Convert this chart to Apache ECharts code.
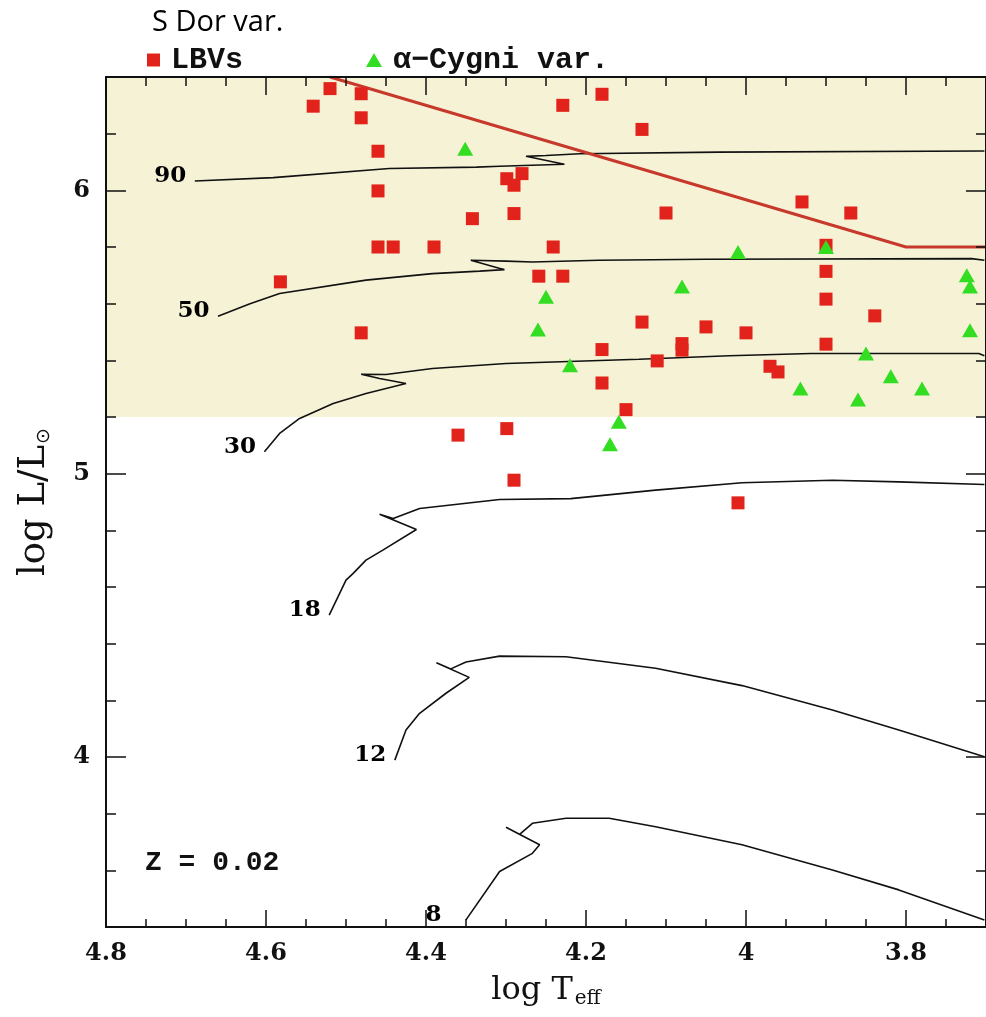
<!DOCTYPE html>
<html><head><meta charset="utf-8">
<script src="https://cdn.jsdelivr.net/npm/echarts@6/dist/echarts.min.js"></script>
<style>html,body{margin:0;padding:0;background:#fff}#c{width:986px;height:1017px}</style>
</head><body><div id="c"></div>
<script>
// ---- tick values ----
const xMajorTicks = [4.8, 4.6, 4.4, 4.2, 4.0, 3.8];
const xMinorTicks = [4.75, 4.7, 4.65, 4.55, 4.5, 4.45, 4.35, 4.3, 4.25, 4.15, 4.1, 4.05, 3.95, 3.9, 3.85, 3.75];
const yMajorTicks = [4, 5, 6];
const yMinorTicks = [3.6, 3.8, 4.2, 4.4, 4.6, 4.8, 5.2, 5.4, 5.6, 5.8, 6.2];

// ---- S Dor variables (LBVs): [log Teff, log L/Lsun] ----
const lbvs = [
  [4.520,6.359],[4.541,6.297],[4.481,6.341],[4.481,6.256],[4.460,6.138],[4.460,5.998],
  [4.460,5.800],[4.441,5.800],[4.390,5.800],[4.582,5.677],[4.481,5.497],[4.342,5.900],
  [4.299,6.041],[4.290,6.018],[4.280,6.059],[4.290,5.918],[4.360,5.136],[4.299,5.159],
  [4.259,5.697],[4.241,5.800],[4.229,6.300],[4.180,6.339],[4.130,6.215],[4.100,5.920],
  [3.930,5.959],[3.869,5.920],[3.900,5.806],[4.229,5.697],[3.900,5.714],[3.900,5.616],
  [3.839,5.557],[4.130,5.535],[4.050,5.518],[4.000,5.497],[4.080,5.459],[4.080,5.436],
  [4.180,5.438],[4.111,5.398],[3.900,5.457],[3.970,5.379],[3.960,5.359],[4.180,5.320],
  [4.150,5.226],[4.290,4.977],[4.010,4.897]
];

// ---- alpha-Cygni variables ----
const alphaCyg = [
  [4.351,6.147],[4.250,5.624],[4.260,5.509],[4.010,5.782],[3.900,5.800],[4.080,5.661],
  [4.220,5.383],[3.724,5.700],[3.720,5.661],[3.720,5.506],[3.850,5.424],[3.819,5.344],
  [3.780,5.301],[3.932,5.301],[3.860,5.262],[4.159,5.183],[4.170,5.104]
];

// ---- Humphreys-Davidson limit ----
const hdLimit = [[4.52,6.40],[3.80,5.80],[3.70,5.80]];

// ---- shaded S Dor instability region (log L range) ----
const bandL = [5.2, 6.4];

// ---- evolutionary tracks (Z = 0.02) ----
const trackNames = ['90','50','30','18','12','8'];
const track90 = [[4.689,6.033],[4.591,6.045],[4.446,6.077],[4.337,6.082],[4.308,6.085],[4.227,6.092],
  [4.275,6.120],[4.250,6.123],[4.208,6.129],[4.034,6.135],[3.702,6.139]];
const track50 = [[4.660,5.556],[4.620,5.600],[4.583,5.636],[4.475,5.683],[4.392,5.706],[4.333,5.715],
  [4.302,5.720],[4.344,5.753],[4.300,5.750],[4.267,5.747],[4.184,5.753],[4.050,5.757],[3.718,5.759],[3.702,5.753]];
const track30 = [[4.602,5.077],[4.583,5.142],[4.558,5.195],[4.516,5.248],[4.475,5.283],[4.425,5.318],
  [4.458,5.336],[4.481,5.351],[4.450,5.350],[4.392,5.371],[4.300,5.389],[4.134,5.404],[4.021,5.416],
  [3.919,5.424],[3.709,5.424],[3.702,5.416]];
const track18 = [[4.521,4.501],[4.500,4.624],[4.491,4.648],[4.475,4.695],[4.454,4.730],[4.412,4.803],
  [4.458,4.857],[4.441,4.842],[4.408,4.877],[4.308,4.909],[4.219,4.912],[4.113,4.942],[4.005,4.968],
  [3.892,4.977],[3.809,4.971],[3.702,4.962]];
const track12 = [[4.439,3.989],[4.425,4.095],[4.408,4.154],[4.375,4.225],[4.346,4.281],[4.387,4.333],
  [4.369,4.311],[4.350,4.335],[4.308,4.356],[4.225,4.354],[4.113,4.313],[4.005,4.252],[3.892,4.166],
  [3.809,4.095],[3.702,4.001]];
const track8 = [[4.350,3.425],[4.308,3.596],[4.267,3.660],[4.258,3.690],[4.300,3.752],[4.283,3.727],
  [4.267,3.766],[4.225,3.784],[4.171,3.784],[4.113,3.754],[4.005,3.690],[3.892,3.601],[3.809,3.531],[3.702,3.425]];
const tracks = [track90, track50, track30, track18, track12, track8];

// ---- styles ----
const INK = '#111';
const tickFont = {fontFamily:'DejaVu Serif', fontWeight:'bold', fontSize:24, color:INK};

function xAx(pos, ticks, len, showLabels, extra) {
  return Object.assign({
    type:'value', position:pos, min:3.7, max:4.8, inverse:true, z:10,
    axisLine:{show:true, onZero:false, lineStyle:{color:INK, width:2}},
    axisTick:{show:true, inside:true, length:len, customValues:ticks, lineStyle:{color:INK, width:1.5}},
    axisLabel:Object.assign({show:showLabels, customValues:ticks, margin:15}, tickFont),
    splitLine:{show:false}
  }, extra || {});
}
function yAx(pos, ticks, len, showLabels, extra) {
  return Object.assign({
    type:'value', position:pos, min:3.4, max:6.4, z:10,
    axisLine:{show:true, onZero:false, lineStyle:{color:INK, width:2}},
    axisTick:{show:true, inside:true, length:len, customValues:ticks, lineStyle:{color:INK, width:1.5}},
    axisLabel:Object.assign({show:showLabels, customValues:ticks, margin:16}, tickFont),
    splitLine:{show:false}
  }, extra || {});
}

const series = [];
series.push({
  type:'line', data:[], z:0, silent:true,
  markArea:{silent:true, itemStyle:{color:'#f6f2d6'}, data:[[{yAxis:bandL[0]},{yAxis:bandL[1]}]]}
});
tracks.forEach((t, i) => {
  series.push({type:'line', name:'track'+trackNames[i], data:t, symbol:'none', showSymbol:false, silent:true,
    z:3, lineStyle:{color:INK, width:1.6}});
});
series.push({
  type:'scatter', name:'trackLabels', silent:true, z:4,
  symbol:'circle', symbolSize:1, itemStyle:{color:'rgba(0,0,0,0)', opacity:1},
  data: tracks.map((t, i) => ({
    value:t[0],
    label:{show:true, formatter:trackNames[i], position:'left',
      distance: trackNames[i] === '8' ? 24 : 8, offset:[0,-5], opacity:1,
      fontFamily:'DejaVu Serif', fontWeight:'bold', fontSize:23, color:'#000'}
  }))
});
series.push({type:'line', name:'HD limit', data:hdLimit, symbol:'none', silent:true, z:4,
  lineStyle:{color:'#c6392b', width:3}});
series.push({type:'scatter', name:'LBVs', data:lbvs, symbol:'rect', symbolSize:13, z:5,
  itemStyle:{color:'#e2231b', opacity:1}});
series.push({type:'scatter', name:'α−Cygni var.', data:alphaCyg, symbol:'triangle', symbolSize:[16,14], z:6,
  itemStyle:{color:'#33dd22', opacity:1}});

const legendText = {fontFamily:'Liberation Mono', fontWeight:'bold', fontSize:30, color:INK, padding:[0,0,0,6]};

const option = {
  animation:false,
  backgroundColor:'#fff',
  grid:{left:106, top:77, width:881, height:850},
  xAxis:[
    xAx('bottom', xMajorTicks, 17, true, {
      name:'log T{s|eff}', nameLocation:'middle', nameGap:46,
      nameTextStyle:{fontFamily:'DejaVu Serif', fontSize:32, color:INK,
        rich:{s:{fontFamily:'DejaVu Serif', fontSize:20, color:INK, padding:[16,0,0,2]}}}
    }),
    xAx('bottom', xMinorTicks, 8, false),
    xAx('top', xMajorTicks, 18, false),
    xAx('top', xMinorTicks, 9, false)
  ],
  yAxis:[
    yAx('left', yMajorTicks, 20, true, {
      name:'log L/L{s|⊙}', nameLocation:'middle', nameGap:52, nameRotate:90,
      nameTextStyle:{fontFamily:'DejaVu Serif', fontSize:37, color:INK,
        rich:{s:{fontFamily:'DejaVu Sans', fontSize:19, color:INK, padding:[20,0,0,1]}}}
    }),
    yAx('left', yMinorTicks, 10, false),
    yAx('right', yMajorTicks, 20, false),
    yAx('right', yMinorTicks, 10, false)
  ],
  legend:[
    {data:[{name:'LBVs', icon:'rect'}], left:142, top:40, itemWidth:13, itemHeight:13,
      selectedMode:false, textStyle:legendText},
    {data:[{name:'α−Cygni var.', icon:'triangle'}], left:361, top:40, itemWidth:16, itemHeight:14,
      selectedMode:false, textStyle:legendText}
  ],
  graphic:[
    {type:'text', left:152, top:8, style:{text:'S Dor var.', fontFamily:'Open Sans', fontSize:29, fill:'#000'}},
    {type:'text', left:145, top:849, style:{text:'Z = 0.02', fontFamily:'Liberation Mono', fontWeight:'bold', fontSize:28, fill:INK}}
  ],
  series: series
};

const chart = echarts.init(document.getElementById('c'), null, {renderer:'canvas'});
chart.setOption(option);
</script>
</body></html>
